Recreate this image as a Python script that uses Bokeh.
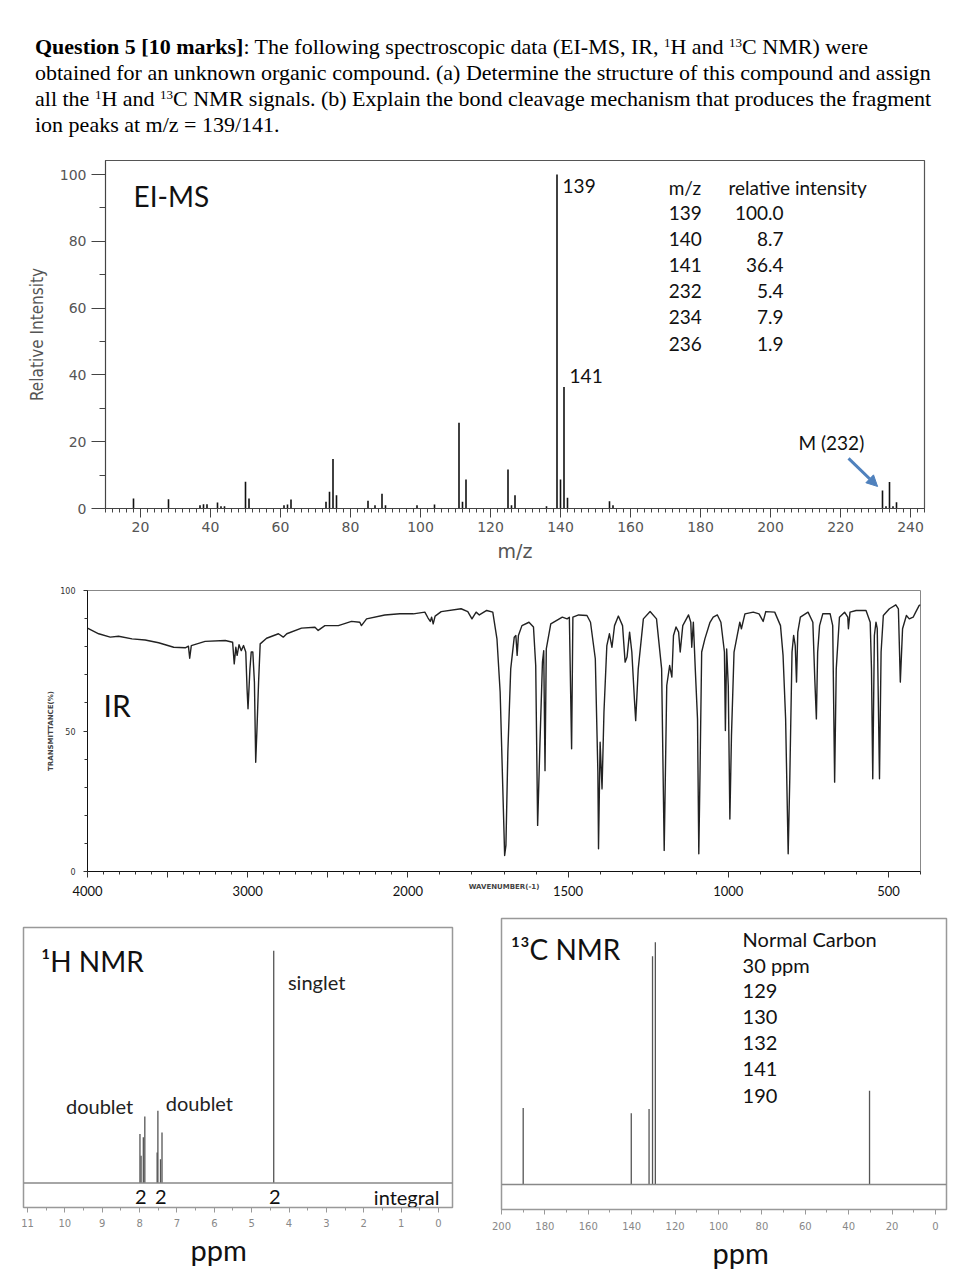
from bokeh.plotting import figure
from bokeh.layouts import column, row
from bokeh.models import (Range1d, FixedTicker, SingleIntervalTicker, Div, Title,
                          Arrow, NormalHead, Span)
from bokeh.core.properties import value
from bokeh.embed import file_html
from bokeh.resources import INLINE

# ---------------- EI-MS data ----------------
ms_mz = [18, 28, 37, 38, 39, 42, 43, 44, 50, 51, 61, 62, 63, 73, 74, 75, 76, 85, 87, 89, 90,
         99, 104, 111, 112, 113, 125, 126, 127, 136, 139, 140, 141, 142, 154, 155,
         232, 233, 234, 235, 236]
ms_int = [3.0, 2.8, 1.0, 1.3, 1.3, 1.8, 0.7, 0.7, 8.0, 3.0, 1.0, 1.2, 2.7, 2.0, 5.0, 14.8, 4.0,
          2.3, 1.0, 4.4, 1.0, 1.0, 1.2, 25.7, 2.0, 8.7, 11.7, 1.0, 4.0, 0.7, 100.0, 8.7, 36.4,
          3.2, 2.2, 1.0, 5.4, 0.7, 7.9, 0.7, 1.9]
ms_table_mz = [139, 140, 141, 232, 234, 236]
ms_table_int = [100.0, 8.7, 36.4, 5.4, 7.9, 1.9]
ms_molecular_ion = 232

# ---------------- IR data ----------------
ir_wavenumber = [4000, 3929, 3857, 3805, 3722, 3639, 3556, 3462, 3389, 3369, 3362, 3352, 3265,
                 3140, 3094, 3084, 3074, 3065, 3053, 3040, 3026, 3011, 3003, 2997, 2986, 2978,
                 2968, 2957, 2949, 2941, 2932, 2922, 2881, 2808, 2777, 2756, 2663, 2579, 2559,
                 2517, 2434, 2351, 2299, 2289, 2257, 2143, 2050, 1983, 1947, 1937, 1930, 1926,
                 1921, 1915, 1896, 1834, 1813, 1800, 1787, 1777, 1754, 1735, 1722, 1712, 1704,
                 1698, 1694, 1688, 1679, 1668, 1663, 1659, 1655, 1644, 1622, 1608, 1601, 1595,
                 1588, 1580, 1576, 1572, 1568, 1554, 1518, 1503, 1496, 1489, 1485, 1467, 1441,
                 1430, 1415, 1407, 1405, 1400, 1394, 1388, 1379, 1371, 1363, 1355, 1343, 1330,
                 1322, 1316, 1308, 1301, 1293, 1289, 1281, 1265, 1244, 1224, 1208, 1200, 1192,
                 1183, 1176, 1171, 1163, 1155, 1150, 1142, 1124, 1117, 1114, 1109, 1103, 1096,
                 1092, 1088, 1083, 1073, 1057, 1047, 1034, 1023, 1012, 1009, 1005, 1000, 995,
                 990, 982, 972, 964, 959, 948, 922, 904, 891, 883, 855, 837, 829, 821, 813,
                 808, 801, 796, 791, 787, 783, 775, 751, 736, 730, 725, 721, 715, 705, 682,
                 674, 668, 663, 653, 637, 627, 625, 620, 601, 570, 557, 553, 549, 544, 539,
                 535, 528, 523, 516, 497, 477, 469, 463, 456, 444, 435, 423, 415, 404, 400]
ir_transmittance = [86.6, 84.6, 83.4, 83.7, 82.8, 82.4, 81.4, 79.8, 79.6, 80.2, 75.9, 80.4, 81.9,
                    82.2, 81.6, 73.9, 79.8, 76.9, 80.7, 78.6, 80.4, 78.1, 65.0, 57.9, 72.1, 78.1,
                    78.1, 67.4, 38.9, 50.8, 67.4, 81.0, 83.0, 84.6, 83.4, 84.6, 86.6, 86.9, 85.8,
                    87.5, 87.5, 89.0, 88.7, 87.5, 89.9, 91.3, 91.7, 91.7, 92.3, 90.2, 89.0, 90.5,
                    88.1, 90.9, 92.5, 93.5, 92.5, 89.9, 92.3, 91.3, 92.9, 92.3, 82.8, 63.8, 30.6,
                    5.7, 9.3, 42.5, 72.1, 83.4, 84.0, 76.9, 84.0, 87.5, 88.7, 87.0, 73.3, 16.4,
                    44.8, 74.5, 78.6, 35.9, 79.2, 88.1, 90.5, 89.9, 90.5, 43.7, 90.5, 91.3, 91.1,
                    88.7, 75.7, 35.3, 8.1, 46.0, 29.4, 56.7, 80.4, 84.6, 79.8, 87.5, 90.9, 87.5,
                    74.5, 76.3, 85.2, 78.1, 61.4, 53.7, 72.1, 89.9, 92.5, 89.9, 72.1, 7.5, 66.2,
                    73.3, 69.2, 84.0, 87.0, 85.2, 78.1, 87.5, 91.3, 88.7, 79.8, 88.7, 72.1, 54.3,
                    6.3, 36.5, 78.1, 82.8, 88.7, 90.5, 91.3, 88.7, 78.1, 50.2, 79.2, 66.2, 18.7,
                    48.4, 78.1, 84.0, 88.7, 86.4, 91.7, 92.3, 91.7, 89.0, 92.5, 92.3, 87.5, 76.9,
                    54.3, 6.3, 33.0, 78.1, 84.0, 80.4, 67.4, 85.2, 90.5, 92.3, 88.7, 68.6, 54.3,
                    78.1, 87.5, 91.7, 91.7, 87.5, 31.8, 72.1, 90.5, 92.3, 90.5, 86.4, 92.3, 92.9,
                    92.9, 88.7, 72.1, 33.0, 84.0, 88.7, 86.4, 33.0, 78.1, 91.1, 93.5, 94.9, 93.5,
                    67.4, 86.4, 91.1, 89.9, 90.5, 92.3, 94.7, 94.9]
ir_labeled_ticks = [4000, 3000, 2000, 1500, 1000, 500]
ir_unlabeled_ticks = [3500, 2500]

# ---------------- 1H NMR data ----------------
h1_shift = [7.99, 7.96, 7.90, 7.86, 7.53, 7.51, 7.44, 7.40, 4.41]
h1_height = [21.1, 11.8, 19.7, 28.7, 13.2, 31.1, 10.3, 21.8, 100.0]
h1_integral_pos = [7.97, 7.43, 4.38]
h1_integral = [2, 2, 2]
h1_mult_text = ["doublet", "doublet", "singlet"]

# ---------------- 13C NMR data ----------------
c13_shift = [190.0, 140.2, 132.0, 130.4, 129.1, 30.4]
c13_height = [31.6, 29.4, 31.2, 94.2, 100.0, 38.7]
c13_listed = [30, 129, 130, 132, 141, 190]

FONT = "Lato"
SUP = "<sup style='font-size:13px;line-height:0;vertical-align:7px'>%s</sup>"

# ---------------- Header ----------------
header_html = (
    "<div style=\"font-family:'Liberation Serif','Times New Roman',serif;font-size:22px;"
    "line-height:26px;padding-left:27px;padding-top:26px;white-space:nowrap;color:#000\">"
    "<b>Question 5 [10 marks]</b>: The following spectroscopic data (EI-MS, IR, "
    + SUP % "1" + "H and " + SUP % "13" + "C NMR) were<br>"
    "obtained for an unknown organic compound. (a) Determine the structure of this compound and assign<br>"
    "all the " + SUP % "1" + "H and " + SUP % "13" + "C NMR signals. "
    "(b) Explain the bond cleavage mechanism that produces the fragment<br>"
    "ion peaks at m/z = 139/141.</div>"
)
header = Div(text=header_html, width=954, height=142, margin=(0, 0, 0, 0))

# ---------------- EI-MS ----------------
ms = figure(width=954, height=415, x_range=Range1d(10, 244), y_range=Range1d(0, 104.2),
            output_backend="svg", toolbar_location=None, frame_align=False,
            min_border_left=97, min_border_right=38, min_border_top=10, min_border_bottom=57)
ms.grid.visible = False
ms.outline_line_color = "#555"
ms.outline_line_width = 1.2
ms.segment(x0=ms_mz, y0=0, x1=ms_mz, y1=ms_int, line_color="#111", line_width=1.6)

ms.xaxis.ticker = SingleIntervalTicker(interval=20, num_minor_ticks=10)
ms.yaxis.ticker = SingleIntervalTicker(interval=20, num_minor_ticks=2)
for ax in (ms.xaxis, ms.yaxis):
    ax.axis_line_color = "#444"
    ax.major_tick_line_color = "#444"
    ax.minor_tick_line_color = "#444"
    ax.major_tick_in = 0
    ax.minor_tick_in = 0
    ax.major_label_text_font = "DejaVu Sans"
    ax.major_label_text_font_size = "14px"
    ax.major_label_text_color = "#555"
    ax.axis_label_text_font_style = "normal"
    ax.axis_label_text_color = "#555"
ms.xaxis.major_tick_out = 9
ms.xaxis.minor_tick_out = 4
ms.xaxis.major_label_standoff = 4
ms.xaxis.axis_label = "m/z"
ms.xaxis.axis_label_text_font = "DejaVu Sans"
ms.xaxis.axis_label_text_font_size = "19px"
ms.xaxis.axis_label_standoff = 5
ms.yaxis.major_tick_out = 14
ms.yaxis.minor_tick_out = 6
ms.yaxis.major_label_standoff = 5
ms.yaxis.axis_label = "Relative Intensity"
ms.yaxis.axis_label_text_font = "'Liberation Sans Narrow', 'DejaVu Sans Condensed', 'Roboto Condensed', 'Roboto', sans-serif"
ms.yaxis.axis_label_text_font_size = "17px"
ms.yaxis.axis_label_standoff = 10

ms.text(x=[18], y=[93.7], text=["EI-MS"], text_font=value(FONT), text_font_size="28px",
        text_baseline="middle", text_color="#111")
i139 = ms_table_mz.index(139)
i141 = ms_table_mz.index(141)
ms.text(x=[139 + 1.6, 141 + 1.6],
        y=[ms_table_int[i139] - 3.3, ms_table_int[i141] + 3.2],
        text=["139", "141"], text_font=value(FONT), text_font_size="19px",
        text_baseline="middle", text_color="#111")
ms.text(x=[170.9, 188.0], y=[96.1, 96.1], text=["m/z", "relative intensity"],
        text_font=value(FONT), text_font_size="19px", text_baseline="middle", text_color="#111")
rows_y = [88.6 - i * 7.85 for i in range(len(ms_table_mz))]
ms.text(x=[170.9] * len(ms_table_mz), y=rows_y, text=[str(m) for m in ms_table_mz],
        text_font=value(FONT), text_font_size="19px", text_baseline="middle", text_color="#111")
ms.text(x=[203.7] * len(ms_table_int), y=rows_y, text=["%.1f" % v for v in ms_table_int],
        text_font=value(FONT), text_font_size="19px", text_baseline="middle", text_align="right",
        text_color="#111")
m_int = ms_int[ms_mz.index(ms_molecular_ion)]
ms.text(x=[ms_molecular_ion - 24], y=[m_int + 14.5], text=["M (%d)" % ms_molecular_ion],
        text_font=value(FONT), text_font_size="19px", text_baseline="middle", text_color="#111")
blue = "#4f81bd"
ms.add_layout(Arrow(end=NormalHead(size=11, fill_color=blue, line_color=blue),
                    x_start=ms_molecular_ion - 9.7, y_start=m_int + 9.6,
                    x_end=ms_molecular_ion - 1.4, y_end=m_int + 1.2,
                    line_color=blue, line_width=3))

# ---------------- IR ----------------
def ir_u(w):
    return int((4000 - w) / 2) if w >= 2000 else 1000 + (2000 - w)

ir_u_vals = [ir_u(w) for w in ir_wavenumber]
ir = figure(width=954, height=340, x_range=Range1d(0, 2600), y_range=Range1d(0, 100),
            output_backend="svg", toolbar_location=None, frame_align=False,
            min_border_left=79, min_border_right=42, min_border_top=25, min_border_bottom=34)
ir.grid.visible = False
ir.outline_line_color = "#888"
ir.line(ir_u_vals, ir_transmittance, line_color="#222", line_width=1.4, line_join="round")
major = sorted(ir_u(w) for w in ir_labeled_ticks + ir_unlabeled_ticks)
minor = [ir_u(w) for w in range(4000, 399, -100)]
ir.xaxis.ticker = FixedTicker(ticks=major, minor_ticks=minor)
overrides = {ir_u(w): str(w) for w in ir_labeled_ticks}
overrides.update({ir_u(w): "" for w in ir_unlabeled_ticks})
ir.xaxis.major_label_overrides = overrides
ir.yaxis.ticker = FixedTicker(ticks=[0, 50, 100], minor_ticks=list(range(0, 101, 10)))
for ax in (ir.xaxis, ir.yaxis):
    ax.axis_line_color = "#111"
    ax.major_tick_line_color = "#333"
    ax.minor_tick_line_color = "#333"
    ax.major_tick_in = 0
    ax.minor_tick_in = 0
ir.xaxis.major_tick_out = 6
ir.xaxis.minor_tick_out = 3
ir.xaxis.major_label_text_font = FONT
ir.xaxis.major_label_text_font_size = "13px"
ir.xaxis.major_label_text_color = "#111"
ir.xaxis.major_label_standoff = 8
ir.xaxis.axis_label = "WAVENUMBER(-1)"
ir.xaxis.axis_label_text_font = "DejaVu Sans"
ir.xaxis.axis_label_text_font_size = "7px"
ir.xaxis.axis_label_text_font_style = "bold"
ir.xaxis.axis_label_text_color = "#444"
ir.xaxis.axis_label_standoff = -16
ir.yaxis.major_tick_out = 4
ir.yaxis.minor_tick_out = 3
ir.yaxis.major_label_text_font = "DejaVu Sans"
ir.yaxis.major_label_text_font_size = "8px"
ir.yaxis.major_label_text_color = "#333"
ir.yaxis.major_label_standoff = 8
ir.yaxis.axis_label = "TRANSMITTANCE(%)"
ir.yaxis.axis_label_text_font = "DejaVu Sans"
ir.yaxis.axis_label_text_font_size = "7px"
ir.yaxis.axis_label_text_font_style = "bold"
ir.yaxis.axis_label_text_color = "#444"
ir.yaxis.axis_label_standoff = 2
ir.text(x=[ir_u(3900)], y=[59.1], text=["IR"], text_font=value(FONT), text_font_size="30px",
        text_baseline="middle", text_color="#111")

# ---------------- 1H NMR ----------------
h1 = figure(width=472, height=371, x_range=Range1d(11.107, -0.375), y_range=Range1d(-10.5, 110),
            output_backend="svg", toolbar_location=None, y_axis_location=None, frame_align=False,
            min_border_left=15, min_border_right=28, min_border_top=22, min_border_bottom=69)
h1.grid.visible = False
h1.outline_line_color = "#999"
h1.outline_line_width = 1.5
h1.add_layout(Span(location=0, dimension="width", line_color="#888", line_width=1.5))
h1.segment(x0=h1_shift, y0=0, x1=h1_shift, y1=h1_height, line_color="#555", line_width=1.3)
h1.xaxis.ticker = FixedTicker(ticks=list(range(0, 12)), minor_ticks=[i * 0.5 for i in range(0, 23)])
h1.add_layout(Title(text="ppm", align="left", offset=167, standoff=0, text_font=FONT,
                    text_font_size="29px", text_font_style="normal", text_color="#111"), "below")
h1.text(x=[10.64], y=[95.7], text=["\u00b9H NMR"], text_font=value(FONT), text_font_size="28px",
        text_baseline="middle", text_color="#111")
h1.text(x=[9.97, 7.30, 4.03], y=[33.2, 34.3, 86.4], text=h1_mult_text, text_font=value(FONT),
        text_font_size="20px", text_baseline="middle", text_color="#222")
h1.text(x=h1_integral_pos, y=[-5.9] * len(h1_integral), text=[str(v) for v in h1_integral],
        text_font=value(FONT), text_font_size="20px", text_baseline="middle", text_align="center",
        text_color="#111")
h1.text(x=[1.73], y=[-6.1], text=["integral"], text_font=value(FONT), text_font_size="20px",
        text_baseline="middle", text_color="#111")

# ---------------- 13C NMR ----------------
c13 = figure(width=482, height=371, x_range=Range1d(200, -5.07), y_range=Range1d(-10.3, 109.8),
             output_backend="svg", toolbar_location=None, y_axis_location=None, frame_align=False,
             min_border_left=21, min_border_right=16, min_border_top=13, min_border_bottom=67)
c13.grid.visible = False
c13.outline_line_color = "#999"
c13.outline_line_width = 1.5
c13.add_layout(Span(location=0, dimension="width", line_color="#888", line_width=1.5))
c13.segment(x0=c13_shift, y0=0, x1=c13_shift, y1=c13_height, line_color="#555", line_width=1.3)
c13.xaxis.ticker = SingleIntervalTicker(interval=20, num_minor_ticks=2)
c13.add_layout(Title(text="ppm", align="left", offset=211, standoff=0, text_font=FONT,
                     text_font_size="29px", text_font_style="normal", text_color="#111"), "below")
c13.text(x=[195.7], y=[97.4], text=["\u00b9\u00b3C NMR"], text_font=value(FONT),
         text_font_size="28px", text_baseline="middle", text_color="#111")
c13.text(x=[88.9], y=[101.5], text=["Normal Carbon"], text_font=value(FONT), text_font_size="20px",
         text_baseline="middle", text_color="#111")
c13_rows = [("%d ppm" % v) if i == 0 else str(v) for i, v in enumerate(c13_listed)]
c13.text(x=[88.9] * len(c13_rows), y=[90.8 - i * 10.82 for i in range(len(c13_rows))],
         text=c13_rows, text_font=value(FONT), text_font_size="20px", text_baseline="middle",
         text_color="#111")

for p, stand in ((h1, 6), (c13, 7)):
    ax = p.xaxis[0]
    ax.axis_line_color = "#999"
    ax.major_tick_line_color = "#999"
    ax.minor_tick_line_color = "#999"
    ax.major_tick_in = 0
    ax.minor_tick_in = 0
    ax.major_tick_out = 5
    ax.minor_tick_out = 3
    ax.major_label_text_font = "DejaVu Sans"
    ax.major_label_text_font_size = "10px"
    ax.major_label_text_color = "#888"
    ax.major_label_standoff = stand

layout = column(header, ms, ir, row(h1, c13, spacing=0), spacing=0, margin=(8, 0, 0, 8))
open("out.html", "w").write(file_html(layout, INLINE))
